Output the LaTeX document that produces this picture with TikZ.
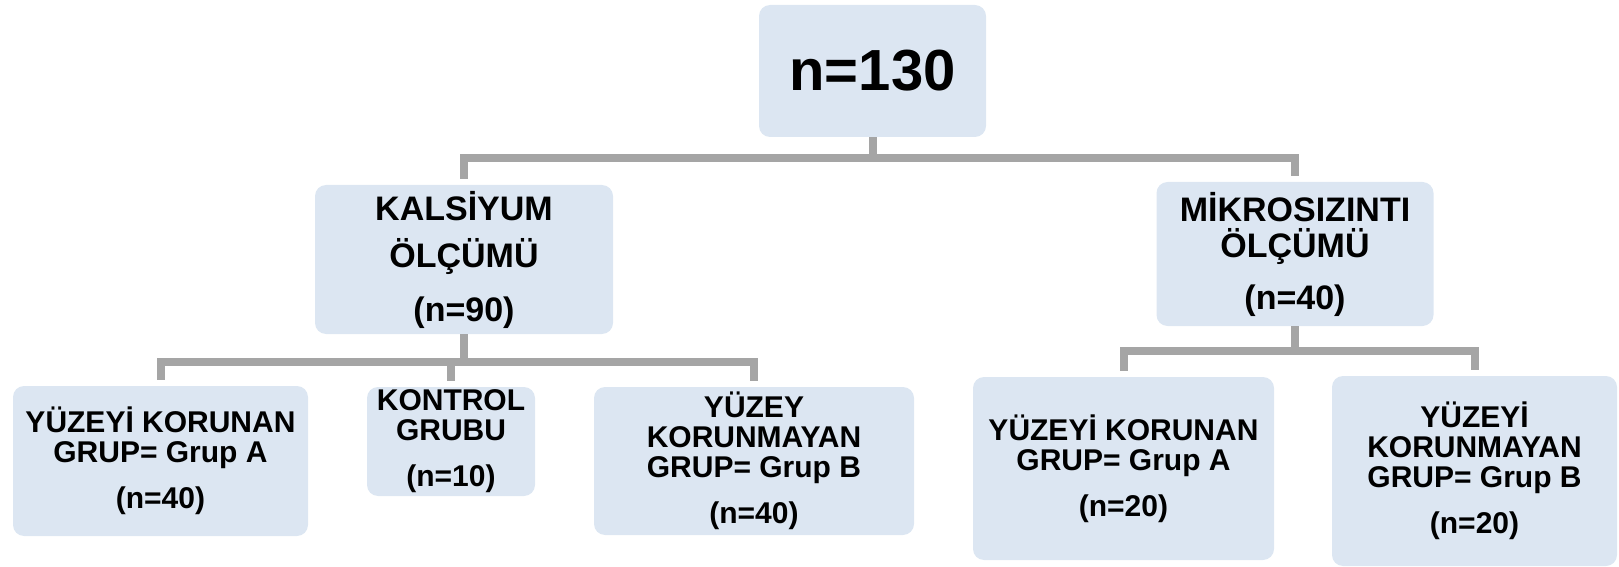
\documentclass[tikz,border=0pt]{standalone}
\usepackage{fontspec}
\setmainfont{Liberation Sans}
\usetikzlibrary{calc}
\definecolor{boxblue}{HTML}{DCE6F2}
\definecolor{linegray}{HTML}{A5A5A5}

\begin{document}
\begin{tikzpicture}[
  x=0.5pt, y=-0.5pt,
  box/.style={fill=boxblue, rounded corners=5.5pt, align=center,
              inner sep=0pt, text=black},
  toptxt/.style={box, font=\bfseries\fontsize{29}{34}\selectfont},
  midtxt/.style={box, font=\bfseries\fontsize{17}{16}\selectfont},
  lowtxt/.style={box, font=\bfseries\fontsize{15}{15}\selectfont},
  conn/.style={draw=linegray, line width=4pt, line join=miter},
  drop/.style={conn, shorten >=3pt},
]
\useasboundingbox (0,0) rectangle (1619,567);

%% ---------- root ----------
\node[toptxt, minimum width=113.5pt, minimum height=66pt] (root) at (872.5,71) {n=130};

%% ---------- second level ----------
\node[midtxt, minimum width=149pt, minimum height=74.5pt] (kals) at (464,259.5)
  {KALSİYUM\\[7.5pt] ÖLÇÜMÜ\\[11pt] (n=90)};
\node[midtxt, minimum width=138.5pt, minimum height=72pt] (mikro) at (1295,254)
  {MİKROSIZINTI\\[2pt] ÖLÇÜMÜ\\[10pt] (n=40)};

\coordinate (j0) at ($(root.south)+(0,21)$);
\draw[conn] (root.south) -- (j0);
\draw[drop] (j0) -| (kals.north);
\draw[drop] (j0) -| (mikro.north);

%% ---------- calcium groups ----------
\node[lowtxt, minimum width=147.5pt, minimum height=75pt] (ka) at (160.5,461)
  {YÜZEYİ KORUNAN\\ GRUP= Grup A\\[8pt] (n=40)};
\node[lowtxt, minimum width=84pt, minimum height=54.5pt] (kk) at (451,441.5)
  {KONTROL\\ GRUBU\\[8pt] (n=10)};
\node[lowtxt, minimum width=160pt, minimum height=74pt] (kb) at (754,461)
  {YÜZEY\\ KORUNMAYAN\\ GRUP= Grup B\\[8pt] (n=40)};

\coordinate (j1) at ($(kals.south)+(0,28)$);
\draw[conn] (kals.south) -- (j1);
\draw[drop] (j1) -| (ka.north);
\draw[drop] (j1) -| (kk.north);
\draw[drop] (j1) -| (kb.north);

%% ---------- microleakage groups ----------
\node[lowtxt, minimum width=150.5pt, minimum height=91.5pt] (ma) at (1123.5,468.5)
  {YÜZEYİ KORUNAN\\ GRUP= Grup A\\[8pt] (n=20)};
\node[lowtxt, minimum width=142.5pt, minimum height=95pt] (mb) at (1474.5,471)
  {YÜZEYİ\\ KORUNMAYAN\\ GRUP= Grup B\\[8pt] (n=20)};

\coordinate (j2) at ($(mikro.south)+(0,25)$);
\draw[conn] (mikro.south) -- (j2);
\draw[drop] (j2) -| (ma.north);
\draw[drop] (j2) -| (mb.north);

\end{tikzpicture}
\end{document}
